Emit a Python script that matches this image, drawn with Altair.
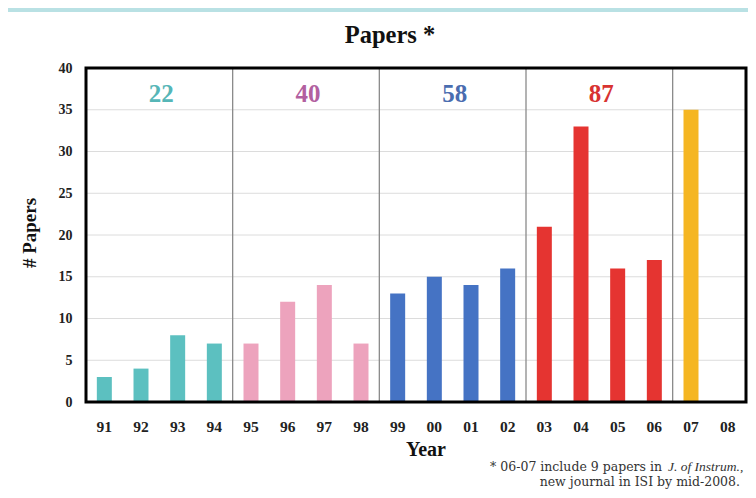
import altair as alt
import pandas as pd

# ---- data ----
years = ["91", "92", "93", "94", "95", "96", "97", "98", "99",
         "00", "01", "02", "03", "04", "05", "06", "07", "08"]
counts = [3, 4, 8, 7, 7, 12, 14, 7, 13, 15, 14, 16, 21, 33, 16, 17, 35, 0]
group_ids = [0, 0, 0, 0, 1, 1, 1, 1, 2, 2, 2, 2, 3, 3, 3, 3, 4, 4]
bar_colors = ["#5cc0c0", "#eda3bd", "#4573c4", "#e53431", "#f5b622"]
group_totals = [22, 40, 58, 87]
total_label_years = ["93", "97", "01", "05"]
total_colors = ["#56b6b7", "#b2609f", "#4a6db0", "#d83331"]
separator_years = ["95", "99", "03", "07"]
y_ticks = [5, 10, 15, 20, 25, 30, 35]

FONT = "Liberation Serif"
NOTE_FONT = "DejaVu Serif"
W, H = 660, 334

bars_df = pd.DataFrame({
    "year": years,
    "count": counts,
    "color": [bar_colors[g] for g in group_ids],
})
totals_df = pd.DataFrame({
    "year": total_label_years,
    "label": [str(t) for t in group_totals],
    "color": total_colors,
})
sep_df = pd.DataFrame({"year": separator_years})
grid_df = pd.DataFrame({"v": y_ticks})

xscale = alt.Scale(domain=years, paddingInner=0, paddingOuter=0)
yscale = alt.Scale(domain=[0, 40], nice=False)

x_axis = alt.Axis(
    title=None, labelAngle=0, labelFont=FONT, labelFontSize=15.5,
    labelFontWeight="bold", labelColor="#222222", ticks=False,
    domain=False, labelPadding=17, zindex=1,
)
y_axis = alt.Axis(
    title=None, values=[0, 5, 10, 15, 20, 25, 30, 35, 40], grid=False,
    labelFont=FONT, labelFontSize=14, labelFontWeight="bold",
    labelColor="#222222", ticks=False, domain=False, labelPadding=14,
    zindex=1,
)

panel = alt.Chart(pd.DataFrame({"a": [0]})).mark_rect(
    fill="white", stroke=None
).encode(
    x=alt.value(-78), x2=alt.value(662), y=alt.value(-56), y2=alt.value(422)
)

grid = alt.Chart(grid_df).mark_rule(color="#dcdcdc", strokeWidth=1).encode(
    y=alt.Y("v:Q", scale=yscale, axis=y_axis),
    x=alt.value(0), x2=alt.value(W),
)

seps = alt.Chart(sep_df).mark_rule(color="#8a8a8a", strokeWidth=1.3).encode(
    x=alt.X("year:N", bandPosition=0, scale=xscale, axis=x_axis, sort=years),
    y=alt.value(0), y2=alt.value(H),
)

bars = alt.Chart(bars_df).mark_bar(width=15).encode(
    x=alt.X("year:N", scale=xscale, axis=x_axis, sort=years),
    y=alt.Y("count:Q", scale=yscale, axis=y_axis),
    color=alt.Color("color:N", scale=None),
)

totals = alt.Chart(totals_df).mark_text(
    font=FONT, fontSize=25, fontWeight="bold", baseline="middle", dx=2
).encode(
    x=alt.X("year:N", bandPosition=0, scale=xscale, axis=x_axis, sort=years),
    y=alt.value(26),
    text="label:N",
    color=alt.Color("color:N", scale=None),
)

frame = alt.Chart(pd.DataFrame({"a": [0]})).mark_rect(
    fill=None, stroke="black", strokeWidth=3
).encode(
    x=alt.value(0), x2=alt.value(W), y=alt.value(0), y2=alt.value(H)
)

def label(text, x, y, size, weight="normal", align="center", style="normal",
          angle=0, color="#111111", font=FONT):
    kw = dict(font=font, fontSize=size, fontWeight=weight, align=align,
              baseline="middle", fontStyle=style, color=color)
    if angle:
        kw["angle"] = angle
    return alt.Chart(pd.DataFrame({"t": [text]})).mark_text(**kw).encode(
        x=alt.value(x), y=alt.value(y), text="t:N"
    )

title = label("Papers *", 304, -32, 24.5, weight="bold")
ytitle = label("# Papers", -56, 165, 19, weight="bold", angle=270)
xtitle = label("Year", 340, 382, 20, weight="bold")
note1a = label("* 06-07 include 9  papers in", 576, 399, 12.5,
               align="right", color="#333333", font=NOTE_FONT)
note1b = label("J. of Instrum.,", 582, 399, 13.5, align="left",
               style="italic", color="#333333")
note2 = label("new journal in ISI by mid-2008.", 654, 414, 12.5,
              align="right", color="#333333", font=NOTE_FONT)

chart = alt.layer(
    panel, grid, seps, bars, totals, frame,
    title, ytitle, xtitle, note1a, note1b, note2,
).properties(
    width=W, height=H,
    autosize=alt.AutoSizeParams(type="none"),
    padding={"left": 78, "top": 60, "right": 2, "bottom": 88},
    background="#b9e1e4",
).configure_view(stroke=None)

chart.save("out.html", embed_options={"renderer": "svg", "actions": False})
